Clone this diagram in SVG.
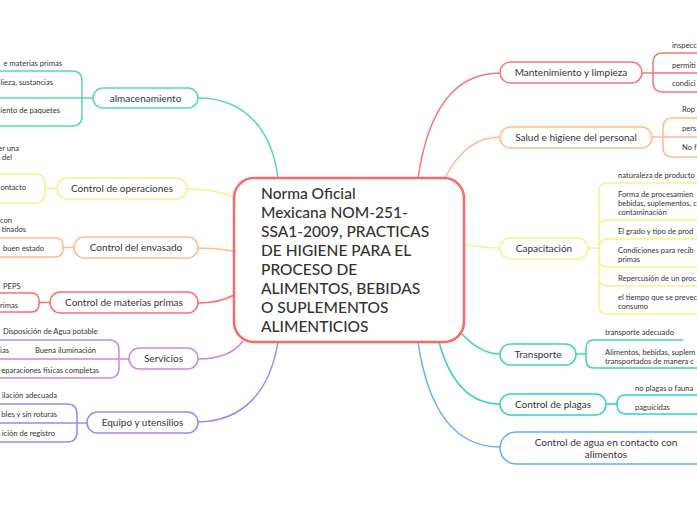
<svg xmlns="http://www.w3.org/2000/svg" width="697" height="520" viewBox="0 0 697 520">
<style>
text{font-family:Lato,"Open Sans","Liberation Sans",sans-serif;fill:#333}
.t{font-size:10px;text-anchor:middle}
.l{font-size:7.6px}
.e{text-anchor:end}
.c{font-size:15.5px;font-weight:500}
.box{fill:#fff;stroke-width:1.5}
.ln{fill:none;stroke-width:1.5}
.teal{stroke:#55d9a9}.yel{stroke:#f9ef8c}.ora{stroke:#fdbb8e}.red{stroke:#fb6d6d}.pur{stroke:#c888ee}.per{stroke:#908cf8}
.mnt{stroke:#f87676}.tra{stroke:#40d6a2}.cya{stroke:#2fcfd0}.blu{stroke:#62aef9}
</style>
<rect width="697" height="520" fill="#fff"/>
<g id="connectors">
<path class="ln teal" d="M198,98 C245,98 272,130 278,178"/>
<path class="ln yel" d="M187,189 C210,189 222,192 234,197"/>
<path class="ln ora" d="M198,248 C215,248 225,250 234,251"/>
<path class="ln red" d="M198,303 C215,303 225,300 234,295"/>
<path class="ln pur" d="M198,359 C220,359 235,352 243,341"/>
<path class="ln per" d="M198,422 C245,421 270,390 278,342"/>
<path class="ln mnt" d="M418,178 C428,110 455,73 500,73"/>
<path class="ln ora" d="M445,178 C458,152 475,137 500,137"/>
<path class="ln yel" d="M464,245 C478,246 488,248 500,248"/>
<path class="ln tra" d="M461,333 C472,345 485,354 500,354"/>
<path class="ln cya" d="M439,342 C450,382 470,404 500,404"/>
<path class="ln blu" d="M418,342 C428,410 455,447 500,447"/>
</g>
<g id="center">
<rect x="234" y="178" width="230" height="164" rx="20" fill="#fff" stroke="#fb6868" stroke-width="2.5"/>
<text class="c" x="261" y="199">Norma Oficial</text>
<text class="c" x="261" y="218">Mexicana NOM-251-</text>
<text class="c" x="261" y="237">SSA1-2009, PRACTICAS</text>
<text class="c" x="261" y="256">DE HIGIENE PARA EL</text>
<text class="c" x="261" y="275">PROCESO DE</text>
<text class="c" x="261" y="294">ALIMENTOS, BEBIDAS</text>
<text class="c" x="261" y="313">O SUPLEMENTOS</text>
<text class="c" x="261" y="332">ALIMENTICIOS</text>
</g>
<g id="almacenamiento">
<path class="ln teal" d="M0,71 H72 Q82,71 82,81 V116 Q82,126 72,126 H0 M0,98 H93"/>
<text class="l e" x="62" y="66">e materias primas</text>
<text class="l e" x="53" y="85">lieza, sustancias</text>
<text class="l e" x="60" y="113">iento de paquetes</text>
<rect class="box teal" x="93" y="88" width="105" height="20" rx="10"/>
<text class="t" x="145.5" y="101.5">almacenamiento</text>
</g>
<g id="operaciones">
<path class="ln yel" d="M0,174 H35 Q45,174 45,184 V193 Q45,203 35,203 H0 M45,188.5 H57"/>
<text class="l e" x="19" y="151">er una</text>
<text class="l e" x="12" y="160">del</text>
<text class="l e" x="26" y="190">ontacto</text>
<rect class="box yel" x="57" y="178" width="130" height="21" rx="10.5"/>
<text class="t" x="122" y="192">Control de operaciones</text>
</g>
<g id="envasado">
<path class="ln ora" d="M0,238 H55 Q63,238 63,246 V249 Q63,257 55,257 H0 M63,247.5 H74"/>
<text class="l e" x="12" y="223">con</text>
<text class="l e" x="26" y="232">tinados</text>
<text class="l" x="3" y="251">buen estado</text>
<rect class="box ora" x="74" y="237" width="124" height="21" rx="10.5"/>
<text class="t" x="136" y="251">Control del envasado</text>
</g>
<g id="materias">
<path class="ln red" d="M0,293 H31 Q39,293 39,301 V304 Q39,312 31,312 H0 M39,302.5 H50"/>
<text class="l" x="3" y="289">PEPS</text>
<text class="l e" x="18" y="308">rimas</text>
<rect class="box red" x="50" y="292" width="148" height="21" rx="10.5"/>
<text class="t" x="124" y="306">Control de materias primas</text>
</g>
<g id="servicios">
<path class="ln pur" d="M0,340 H109 Q119,340 119,350 V368 Q119,378 109,378 H0 M0,359 H129"/>
<text class="l" x="3" y="334">Disposición de Agua potable</text>
<text class="l e" x="9" y="353">ias</text>
<text class="l" x="35" y="353">Buena iluminación</text>
<text class="l e" x="99" y="373">eparaciones físicas completas</text>
<rect class="box pur" x="129" y="348" width="69" height="21" rx="10.5"/>
<text class="t" x="163.5" y="362">Servicios</text>
</g>
<g id="equipo">
<path class="ln per" d="M0,404 H67 Q77,404 77,414 V432 Q77,442 67,442 H0 M0,423 H87"/>
<text class="l e" x="57" y="398">ilación adecuada</text>
<text class="l e" x="57" y="417">bles y sin roturas</text>
<text class="l e" x="55" y="436">ición de registro</text>
<rect class="box per" x="87" y="412" width="111" height="21" rx="10.5"/>
<text class="t" x="142.5" y="426">Equipo y utensilios</text>
</g>
<g id="mantenimiento">
<path class="ln mnt" d="M697,53 H663 Q653,53 653,63 V82 Q653,92 663,92 H697 M642,73 H697"/>
<text class="l" x="672" y="48">inspecc</text>
<text class="l" x="672" y="68">permiti</text>
<text class="l" x="672" y="86">condici</text>
<rect class="box mnt" x="500" y="62" width="142" height="21" rx="10.5"/>
<text class="t" x="571" y="76">Mantenimiento y limpieza</text>
</g>
<g id="salud">
<path class="ln ora" d="M697,118 H673 Q663,118 663,128 V147 Q663,157 673,157 H697 M652,137 H697"/>
<text class="l" x="682" y="112">Rop</text>
<text class="l" x="682" y="131">pers</text>
<text class="l" x="682" y="150">No f</text>
<rect class="box ora" x="500" y="127" width="152" height="21" rx="10.5"/>
<text class="t" x="576" y="141">Salud e higiene del personal</text>
</g>
<g id="capacitacion">
<path class="ln yel" d="M588,248 H599 M599,248 V191 Q599,183 607,183 H697 M599,248 V228 Q599,220 607,220 H697 M599,248 Q599,239 608,239 H697 M599,248 V259 Q599,267 607,267 H697 M599,248 V278 Q599,286 607,286 H697 M599,248 V306 Q599,314 607,314 H697"/>
<text class="l" x="618" y="177.5">naturaleza de producto</text>
<text class="l" x="618" y="196.5">Forma de procesamien</text>
<text class="l" x="618" y="205.5">bebidas, suplementos, c</text>
<text class="l" x="618" y="214.5">contaminación</text>
<text class="l" x="618" y="233.5">El grado y tipo de prod</text>
<text class="l" x="618" y="252.5">Condiciones para recib</text>
<text class="l" x="618" y="261.5">primas</text>
<text class="l" x="618" y="280.5">Repercusión de un proc</text>
<text class="l" x="618" y="299.5">el tiempo que se prevec</text>
<text class="l" x="618" y="308.5">consumo</text>
<rect class="box yel" x="500" y="238" width="88" height="21" rx="10.5"/>
<text class="t" x="544" y="252">Capacitación</text>
</g>
<g id="transporte">
<path class="ln tra" d="M576,354 H586 M586,354 V348 Q586,340 594,340 H683 M586,354 V360 Q586,368 594,368 H697"/>
<text class="l" x="605" y="334.5">transporte adecuado</text>
<text class="l" x="605" y="354.5">Alimentos, bebidas, suplem</text>
<text class="l" x="605" y="363.5">transportados de manera c</text>
<rect class="box tra" x="500" y="344" width="76" height="21" rx="10.5"/>
<text class="t" x="538" y="358">Transporte</text>
</g>
<g id="plagas">
<path class="ln cya" d="M606,404 H617 M617,404 Q617,395 626,395 H697 M617,404 Q617,414 626,414 H697"/>
<text class="l" x="635" y="390.5">no plagas o fauna</text>
<text class="l" x="635" y="409.5">paguicidas</text>
<rect class="box cya" x="500" y="394" width="106" height="21" rx="10.5"/>
<text class="t" x="553" y="408">Control de plagas</text>
</g>
<g id="agua">
<rect class="box blu" x="500" y="432" width="212" height="32" rx="16"/>
<text class="t" x="606" y="445.5">Control de agua en contacto con</text>
<text class="t" x="606" y="457.5">alimentos</text>
</g>
</svg>
